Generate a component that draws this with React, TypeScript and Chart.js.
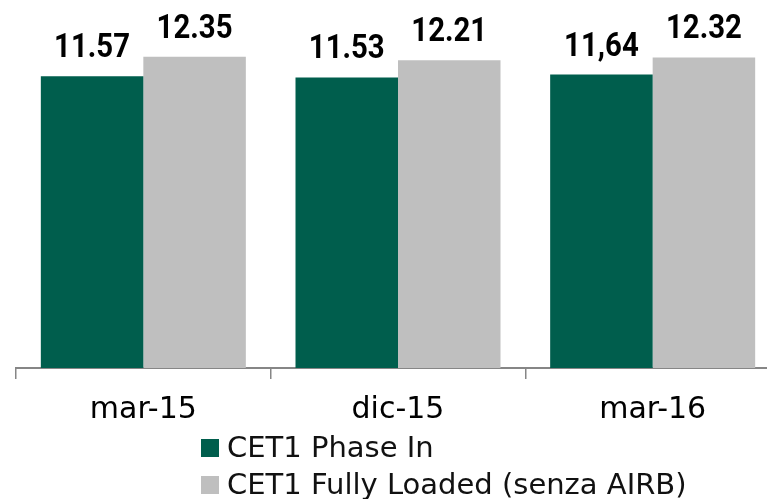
import React, { useEffect, useRef } from "react";
import { Chart, registerables } from "chart.js";

Chart.register(...registerables);

const categories = ["mar-15", "dic-15", "mar-16"];
const seriesNames = ["CET1 Phase In", "CET1 Fully Loaded (senza AIRB)"];
const phaseIn = [11.57, 11.53, 11.64];
const fullyLoaded = [12.35, 12.21, 12.32];
const phaseInLabels = ["11.57", "11.53", "11,64"];
const fullyLoadedLabels = ["12.35", "12.21", "12.32"];

const GREEN = "#005E4D";
const GRAY = "#BFBFBF";
const AXIS = "#868686";
const FONT = '"DejaVu Sans", sans-serif';
const LABEL_FONT = 'Roboto, "Liberation Sans", sans-serif';

const valueLabelPlugin = {
  id: "valueLabels",
  afterDatasetsDraw(chart: any) {
    const ctx = chart.ctx;
    const sx = 0.89;
    chart.data.datasets.forEach((ds: any, i: number) => {
      const meta = chart.getDatasetMeta(i);
      meta.data.forEach((bar: any, j: number) => {
        ctx.save();
        ctx.font = `bold 33px ${LABEL_FONT}`;
        ctx.fillStyle = "#000";
        ctx.textAlign = "center";
        ctx.textBaseline = "alphabetic";
        ctx.translate(bar.x, bar.y - 19);
        ctx.scale(sx, 1);
        ctx.fillText(ds.valueLabels[j], 0, 0);
        ctx.restore();
      });
    });
  },
};

const legendPlugin = {
  id: "customLegend",
  afterDraw(chart: any) {
    const ctx = chart.ctx;
    ctx.save();
    const x0 = 201;
    const y0 = 439;
    const row = 37;
    const box = 18;
    ctx.font = `29px ${FONT}`;
    ctx.textAlign = "left";
    ctx.textBaseline = "middle";
    chart.data.datasets.forEach((ds: any, i: number) => {
      const y = y0 + i * row;
      ctx.fillStyle = ds.backgroundColor;
      ctx.fillRect(x0, y, box, box);
      ctx.fillStyle = "#111";
      ctx.fillText(ds.label, x0 + 26, y + box / 2 + 1);
    });
    ctx.restore();
  },
};

export default function App() {
  const ref = useRef<HTMLCanvasElement | null>(null);
  useEffect(() => {
    if (!ref.current) return;
    const chart = new Chart(ref.current, {
      type: "bar",
      data: {
        labels: categories,
        datasets: [
          {
            label: seriesNames[0],
            data: phaseIn,
            backgroundColor: GREEN,
            borderWidth: 0,
            valueLabels: phaseInLabels,
          } as any,
          {
            label: seriesNames[1],
            data: fullyLoaded,
            backgroundColor: GRAY,
            borderWidth: 0,
            valueLabels: fullyLoadedLabels,
          } as any,
        ],
      },
      options: {
        animation: false,
        responsive: true,
        maintainAspectRatio: false,
        layout: { padding: { left: 16, right: 10, top: 0, bottom: 58 } },
        datasets: { bar: { categoryPercentage: 0.805, barPercentage: 1 } },
        plugins: { legend: { display: false }, tooltip: { enabled: false } },
        scales: {
          x: {
            grid: {
              display: true,
              drawOnChartArea: false,
              drawTicks: true,
              tickLength: 11,
              color: AXIS,
              lineWidth: 1.5,
              offset: true,
            },
            border: { display: true, color: AXIS, width: 2 },
            ticks: { color: "#000", padding: 13, font: { family: FONT, size: 30 } },
          },
          y: { display: false, min: 0, max: 14.6 },
        },
      },
      plugins: [valueLabelPlugin, legendPlugin],
    });
    return () => chart.destroy();
  }, []);
  return (
    <div
      style={{
        position: "fixed",
        left: 0,
        top: 0,
        width: 767,
        height: 499,
        overflow: "hidden",
        background: "#fff",
      }}
    >
      <div style={{ position: "relative", width: 790, height: 499 }}>
        <canvas ref={ref} />
      </div>
    </div>
  );
}
